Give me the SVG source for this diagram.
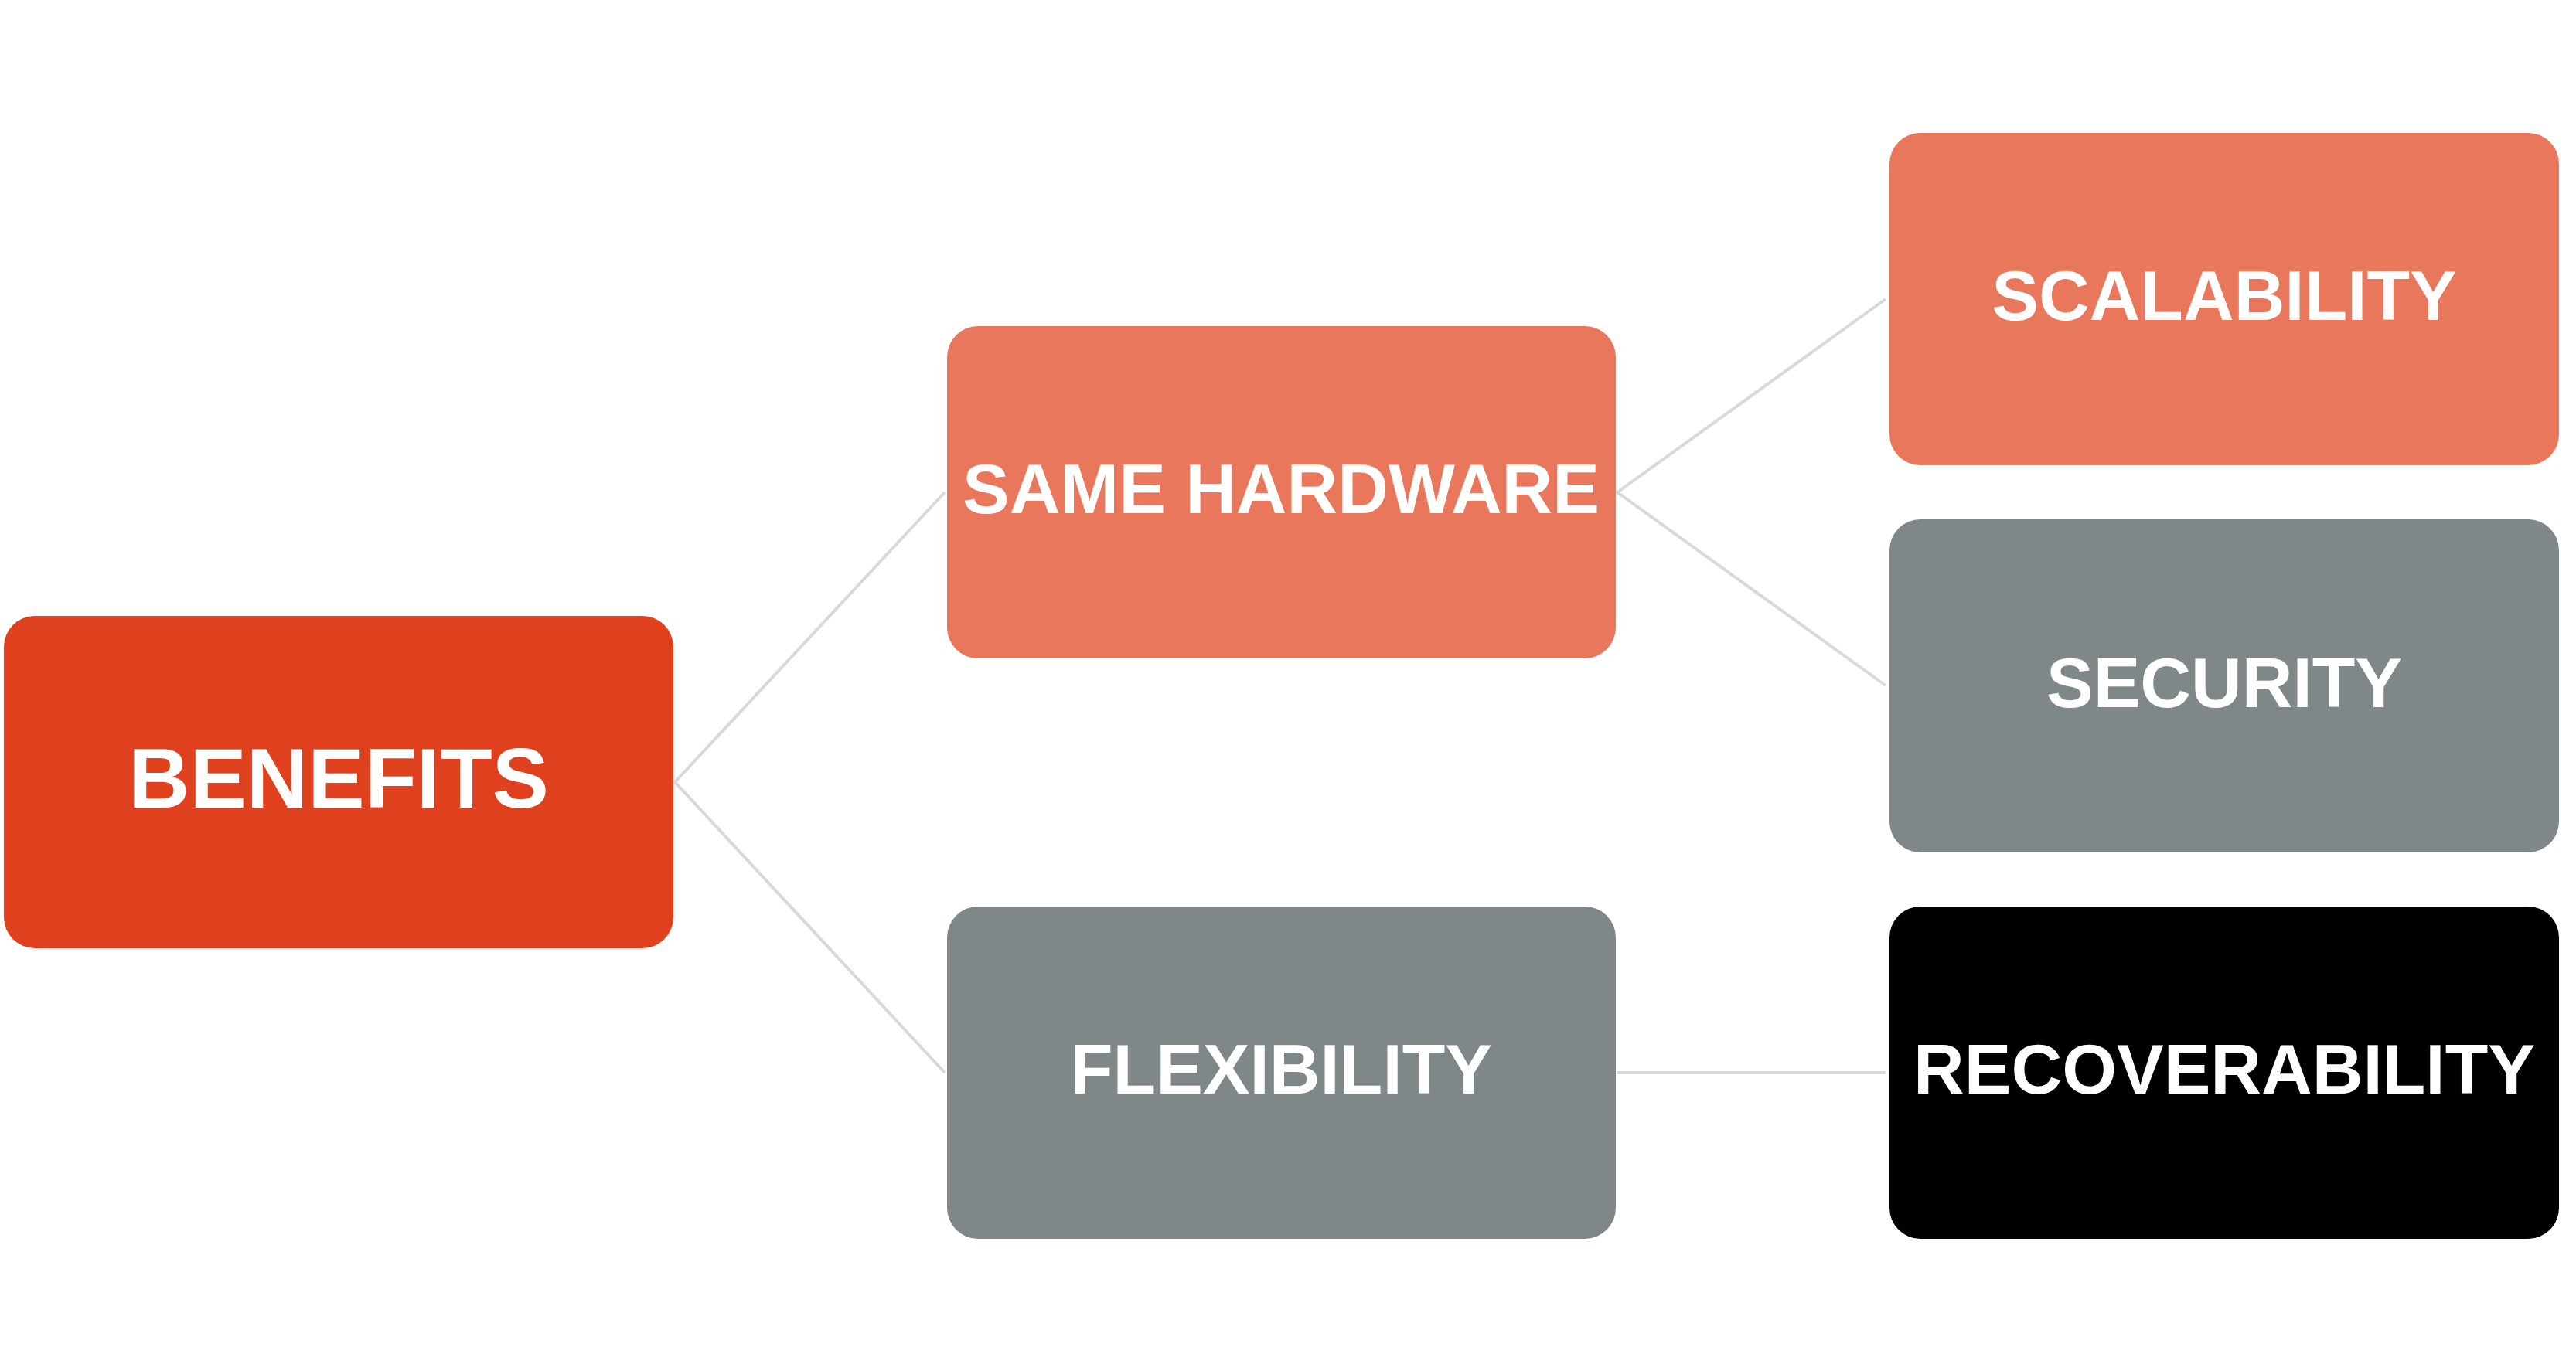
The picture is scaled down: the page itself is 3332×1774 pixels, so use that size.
<svg xmlns="http://www.w3.org/2000/svg" width="3332" height="1774" viewBox="0 0 3332 1774">
<style>
.box{stroke:none}
.red{fill:#DF411E}
.coral{fill:#E8775C}
.gray{fill:#808789}
.black{fill:#000000}
.lbl{font-family:"Liberation Sans",Arial,sans-serif;font-weight:bold;fill:#FFFFFF;text-anchor:middle;font-size:91px}
.big{font-size:110px}
.conn{stroke:#D9D9D9;stroke-width:4;fill:none;stroke-linejoin:miter}
</style>
<rect width="3332" height="1774" fill="#FFFFFF"/>
<g id="connectors">
<polyline class="conn" points="1222,637 873,1012 1222,1388"/>
<polyline class="conn" points="2439,387 2092,637 2439,887"/>
<line class="conn" x1="2092" y1="1388" x2="2439" y2="1388"/>
</g>
<g id="benefits">
<rect class="box red" x="5" y="797" width="866" height="430" rx="40" ry="40"/>
<text class="lbl big" x="438" y="1045">BENEFITS</text>
</g>
<g id="same-hardware">
<rect class="box coral" x="1225" y="422" width="865" height="430" rx="40" ry="40"/>
<text class="lbl" x="1657" y="664">SAME HARDWARE</text>
</g>
<g id="flexibility">
<rect class="box gray" x="1225" y="1173" width="865" height="430" rx="40" ry="40"/>
<text class="lbl" x="1657" y="1415">FLEXIBILITY</text>
</g>
<g id="scalability">
<rect class="box coral" x="2444" y="172" width="866" height="430" rx="40" ry="40"/>
<text class="lbl" x="2877" y="414">SCALABILITY</text>
</g>
<g id="security">
<rect class="box gray" x="2444" y="672" width="866" height="431" rx="40" ry="40"/>
<text class="lbl" x="2877" y="915">SECURITY</text>
</g>
<g id="recoverability">
<rect class="box black" x="2444" y="1173" width="866" height="430" rx="40" ry="40"/>
<text class="lbl" x="2877" y="1415">RECOVERABILITY</text>
</g>
</svg>
